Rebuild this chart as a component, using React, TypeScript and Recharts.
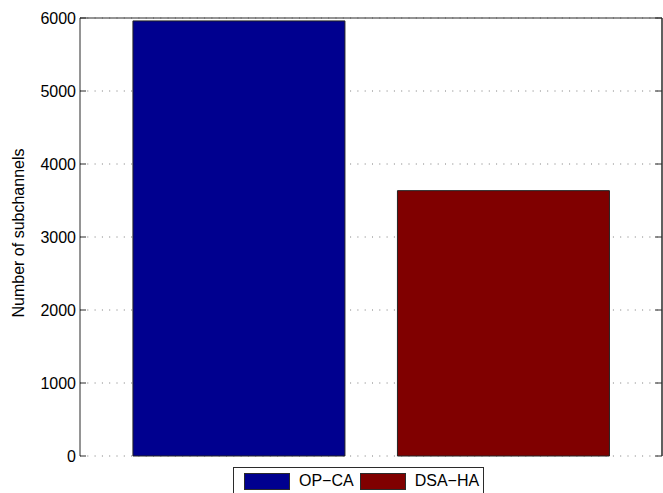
import React from 'react';
import { ComposedChart, Bar, Line, XAxis, YAxis, CartesianGrid, Cell, Legend, ReferenceLine } from 'recharts';

const categories = ['OP-CA', 'DSA-HA'];
const subchannels = [5960, 3635];
const barColors = ['#00008F', '#800000'];
const yTicks = [0, 1000, 2000, 3000, 4000, 5000, 6000];
const yLabel = 'Number of subchannels';

const data = categories.map((name, i) => ({ name, value: subchannels[i] }));

const FONT = '"Liberation Sans", Arial, Helvetica, sans-serif';
const AXIS = '#2b2b2b';

const LegendBox = () => (
  <div
    style={{
      border: `1px solid ${AXIS}`,
      background: '#fff',
      height: 40,
      boxSizing: 'border-box',
      display: 'flex',
      alignItems: 'flex-start',
      paddingTop: 4,
      paddingLeft: 10,
      fontFamily: FONT,
      fontSize: 16,
      color: '#000',
    }}
  >
    {categories.map((c, i) => (
      <div key={c} style={{ display: 'flex', alignItems: 'center', marginRight: 6 }}>
        <div
          style={{
            width: 46,
            height: 17,
            background: barColors[i],
            border: `1px solid ${AXIS}`,
            boxSizing: 'border-box',
            marginRight: 9,
          }}
        />
        <span style={{ lineHeight: '18px' }}>{c.replace('-', '\u2212')}</span>
      </div>
    ))}
  </div>
);

const YLabel = () => (
  <text
    x={23.5}
    y={233}
    transform="rotate(-90, 23.5, 233)"
    textAnchor="middle"
    fontFamily={FONT}
    fontSize={16}
    fill="#000"
  >
    {yLabel}
  </text>
);

const LeftTick = (props: any) => {
  const { x, y, payload } = props;
  return (
    <g>
      <line x1={x + 4} x2={x + 10} y1={y} y2={y} stroke={AXIS} />
      <text x={x} y={y} dy={5.5} textAnchor="end" fontFamily={FONT} fontSize={16} fill="#000">
        {payload.value}
      </text>
    </g>
  );
};

const RightTick = (props: any) => {
  const { x, y } = props;
  return <line x1={x - 7} x2={x} y1={y} y2={y} stroke={AXIS} />;
};

export default function App() {
  return (
    <div style={{ position: 'absolute', left: 0, top: 0, width: 663, height: 493, background: '#fff' }}>
      <ComposedChart
        width={663}
        height={493}
        data={data}
        margin={{ top: 18, right: 0, bottom: 37, left: 0 }}
        barCategoryGap="10%"
      >
        <CartesianGrid vertical={false} stroke="#7a7a7a" strokeDasharray="1 6.3" />
        <XAxis
          dataKey="name"
          tick={false}
          tickLine={false}
          height={0}
          axisLine={{ stroke: AXIS }}
          padding={{ left: 26.5, right: 26.5 }}
        />
        <YAxis
          width={80}
          domain={[0, 6000]}
          ticks={yTicks}
          interval={0}
          tickSize={0}
          tickMargin={4}
          axisLine={{ stroke: AXIS }}
          tickLine={false}
          tick={<LeftTick />}
          label={<YLabel />}
        />
        <YAxis
          yAxisId="right"
          orientation="right"
          width={1}
          domain={[0, 6000]}
          ticks={yTicks}
          interval={0}
          tickSize={0}
          tickMargin={0}
          tick={<RightTick />}
          axisLine={{ stroke: AXIS, strokeWidth: 1.5 }}
          tickLine={false}
        />
        <Bar dataKey="value" stroke="#222" strokeWidth={1} isAnimationActive={false}>
          {data.map((d, i) => (
            <Cell key={d.name} fill={barColors[i]} />
          ))}
        </Bar>
        <Line
          yAxisId="right"
          dataKey="value"
          stroke="none"
          dot={false}
          activeDot={false}
          legendType="none"
          isAnimationActive={false}
        />
        <ReferenceLine y={6000} stroke={AXIS} />
        <Legend
          layout="vertical"
          align="center"
          verticalAlign="middle"
          content={<LegendBox />}
          wrapperStyle={{ position: 'absolute', left: 233, top: 467, width: 251, height: 40, margin: 0 }}
        />
      </ComposedChart>
    </div>
  );
}
